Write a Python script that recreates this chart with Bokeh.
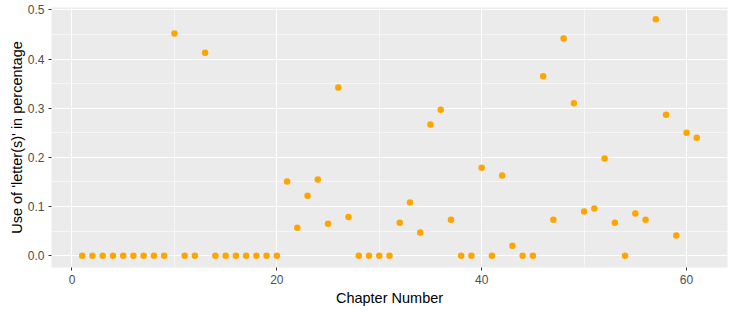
from bokeh.plotting import figure
from bokeh.models import FixedTicker, PrintfTickFormatter, Range1d
from bokeh.embed import file_html
from bokeh.resources import INLINE

chapters = list(range(1, 62))
usage = [0, 0, 0, 0, 0, 0, 0, 0, 0, 0.452,
         0, 0, 0.413, 0, 0, 0, 0, 0, 0, 0,
         0.151, 0.057, 0.122, 0.155, 0.065, 0.342, 0.079, 0, 0, 0,
         0, 0.067, 0.108, 0.047, 0.267, 0.297, 0.073, 0, 0, 0.179,
         0, 0.163, 0.020, 0, 0, 0.365, 0.073, 0.442, 0.310, 0.090,
         0.096, 0.198, 0.067, 0, 0.086, 0.073, 0.481, 0.287, 0.041, 0.250,
         0.240]
x_ticks = [0, 20, 40, 60]
x_minor = [10, 30, 50]
y_ticks = [0.0, 0.1, 0.2, 0.3, 0.4, 0.5]
y_minor = [0.05, 0.15, 0.25, 0.35, 0.45]

p = figure(width=735, height=312, output_backend="svg", toolbar_location=None,
           x_range=Range1d(-2, 64), y_range=Range1d(-0.024, 0.505),
           min_border_left=51, min_border_right=8, min_border_top=7, min_border_bottom=45)

p.background_fill_color = "#EBEBEB"
p.border_fill_color = "white"
p.outline_line_color = None

p.scatter(chapters, usage, size=6.5, color="#FFA500", line_color=None)

p.xaxis.ticker = FixedTicker(ticks=x_ticks, minor_ticks=x_minor)
p.yaxis.ticker = FixedTicker(ticks=y_ticks, minor_ticks=y_minor)
p.yaxis.formatter = PrintfTickFormatter(format="%.1f")

for g in (p.xgrid, p.ygrid):
    g.grid_line_color = "white"
    g.grid_line_width = 1.1
    g.minor_grid_line_color = "white"
    g.minor_grid_line_width = 0.55

for ax in (p.xaxis, p.yaxis):
    ax.axis_line_color = None
    ax.major_tick_line_color = "#333333"
    ax.major_tick_in = 0
    ax.major_tick_out = 3
    ax.minor_tick_line_color = None
    ax.major_label_text_font = "Liberation Sans"
    ax.major_label_text_font_size = "12px"
    ax.major_label_text_color = "#4D4D4D"
    ax.axis_label_text_font = "Liberation Sans"
    ax.axis_label_text_font_size = "14.5px"
    ax.axis_label_text_font_style = "normal"
    ax.axis_label_text_color = "black"

p.xaxis.axis_label = "Chapter Number"
p.yaxis.axis_label = "Use of 'letter(s)' in percentage"
p.xaxis.major_label_standoff = 3
p.yaxis.major_label_standoff = 3
p.xaxis.axis_label_standoff = 3
p.yaxis.axis_label_standoff = 0

open("out.html", "w").write(file_html(p, INLINE))
